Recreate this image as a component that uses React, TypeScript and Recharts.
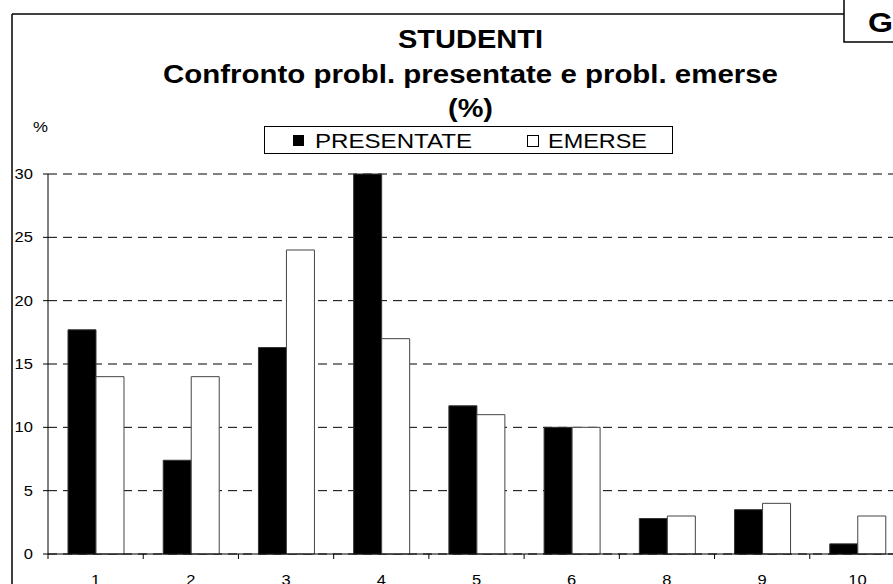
import React from 'react';
import { BarChart, Bar, XAxis, YAxis, CartesianGrid, Legend } from 'recharts';

const categories = ['1', '2', '3', '4', '5', '6', '8', '9', '10'];
const presentate = [17.7, 7.4, 16.3, 30, 11.7, 10, 2.8, 3.5, 0.8];
const emerse = [14, 14, 24, 17, 11, 10, 3, 4, 3];
const yTicks = [0, 5, 10, 15, 20, 25, 30];
const seriesNames = ['PRESENTATE', 'EMERSE'];
const titleLines = ['STUDENTI', 'Confronto probl. presentate e probl. emerse', '(%)'];
const unitLabel = '%';
const cornerLabel = 'G';

const data = categories.map((c, i) => ({ cat: c, presentate: presentate[i], emerse: emerse[i] }));

const FONT = '"Liberation Sans", Arial, Helvetica, sans-serif';
const STRETCH = 1.18;
const CHART_W = 910;
const CHART_H = 584;
const PLOT_LEFT = 48;
const RIGHT_MARGIN = 5;

const YTick = (props: any) => {
  const { x, y, payload } = props;
  const s = String(payload.value);
  return (
    <text
      x={x}
      y={y + 5}
      textAnchor="end"
      fontSize={14}
      fontFamily={FONT}
      fill="#000"
      textLength={s.length * 14 * 0.556 * STRETCH}
      lengthAdjust="spacingAndGlyphs"
    >
      {s}
    </text>
  );
};

const XTick = (props: any) => {
  const { x, y, payload } = props;
  const half = (payload && payload.offset) || (CHART_W - PLOT_LEFT - RIGHT_MARGIN) / categories.length / 2;
  const s = String(payload.value);
  return (
    <g>
      <line x1={x - half} x2={x - half} y1={y} y2={y + 5} stroke="#000" strokeWidth={1} />
      <text
        x={x}
        y={y + 31}
        textAnchor="middle"
        fontSize={14}
        fontFamily={FONT}
        fill="#000"
        textLength={s.length * 14 * 0.556 * STRETCH}
        lengthAdjust="spacingAndGlyphs"
      >
        {s}
      </text>
    </g>
  );
};

const LegendBox = () => (
  <svg width={409} height={28} style={{ display: 'block' }}>
    <rect x={0.5} y={0.5} width={408} height={27} fill="#fff" stroke="#000" strokeWidth={1} />
    <rect x={29} y={9} width={11} height={11} fill="#000" />
    <text x={51} y={22} fontSize={20} fontFamily={FONT} fill="#000" textLength={157} lengthAdjust="spacingAndGlyphs">
      {seriesNames[0]}
    </text>
    <rect x={263.5} y={9.5} width={11} height={11} fill="#fff" stroke="#000" strokeWidth={1} />
    <text x={284} y={22} fontSize={20} fontFamily={FONT} fill="#000" textLength={99} lengthAdjust="spacingAndGlyphs">
      {seriesNames[1]}
    </text>
  </svg>
);

export default function App() {
  return (
    <div
      style={{
        position: 'absolute',
        left: 0,
        top: 0,
        width: 893,
        height: 584,
        overflow: 'hidden',
        background: '#fff',
      }}
    >
      <BarChart
        width={CHART_W}
        height={CHART_H}
        data={data}
        margin={{ top: 174, right: RIGHT_MARGIN, bottom: 0, left: 0 }}
        barCategoryGap="21%"
        barGap={0}
      >
        <CartesianGrid vertical={false} stroke="#000" strokeDasharray="9 6" />
        <XAxis
          dataKey="cat"
          height={30}
          interval={0}
          tickLine={false}
          tickSize={0}
          tickMargin={0}
          axisLine={{ stroke: '#000', strokeWidth: 1 }}
          tick={<XTick />}
        />
        <YAxis
          type="number"
          domain={[0, 30]}
          ticks={yTicks}
          width={PLOT_LEFT}
          interval={0}
          tickSize={5}
          tickMargin={10}
          axisLine={{ stroke: '#000', strokeWidth: 1 }}
          tickLine={{ stroke: '#000', strokeWidth: 1 }}
          tick={<YTick />}
        />
        <Legend
          layout="vertical"
          align="center"
          verticalAlign="middle"
          content={() => <LegendBox />}
          wrapperStyle={{ left: 264, top: 126, width: 409, height: 28 }}
        />
        <Bar
          dataKey="presentate"
          name={seriesNames[0]}
          fill="#000"
          stroke="#333"
          strokeWidth={1}
          isAnimationActive={false}
        />
        <Bar
          dataKey="emerse"
          name={seriesNames[1]}
          fill="#fff"
          stroke="#444"
          strokeWidth={1}
          isAnimationActive={false}
        />
      </BarChart>
      <svg
        width={893}
        height={584}
        style={{ position: 'absolute', left: 0, top: 0, pointerEvents: 'none' }}
      >
        <line x1={12} y1={14} x2={844} y2={14} stroke="#000" strokeWidth={1.5} />
        <line x1={12} y1={14} x2={12} y2={584} stroke="#000" strokeWidth={1.5} />
        <path d="M844,0 V42 H893" fill="none" stroke="#000" strokeWidth={1.5} />
        <text x={868} y={32} fontSize={27} fontWeight="bold" fontFamily={FONT} fill="#000" textLength={25} lengthAdjust="spacingAndGlyphs">
          {cornerLabel}
        </text>
        <text x={470.5} y={48} textAnchor="middle" fontSize={25} fontWeight="bold" fontFamily={FONT} fill="#000" textLength={145} lengthAdjust="spacingAndGlyphs">
          {titleLines[0]}
        </text>
        <text x={470.5} y={83} textAnchor="middle" fontSize={25} fontWeight="bold" fontFamily={FONT} fill="#000" textLength={615} lengthAdjust="spacingAndGlyphs">
          {titleLines[1]}
        </text>
        <text x={470.5} y={117} textAnchor="middle" fontSize={25} fontWeight="bold" fontFamily={FONT} fill="#000" textLength={45} lengthAdjust="spacingAndGlyphs">
          {titleLines[2]}
        </text>
        <text x={33} y={132} fontSize={15} fontFamily={FONT} fill="#000" textLength={15} lengthAdjust="spacingAndGlyphs">
          {unitLabel}
        </text>
      </svg>
    </div>
  );
}
